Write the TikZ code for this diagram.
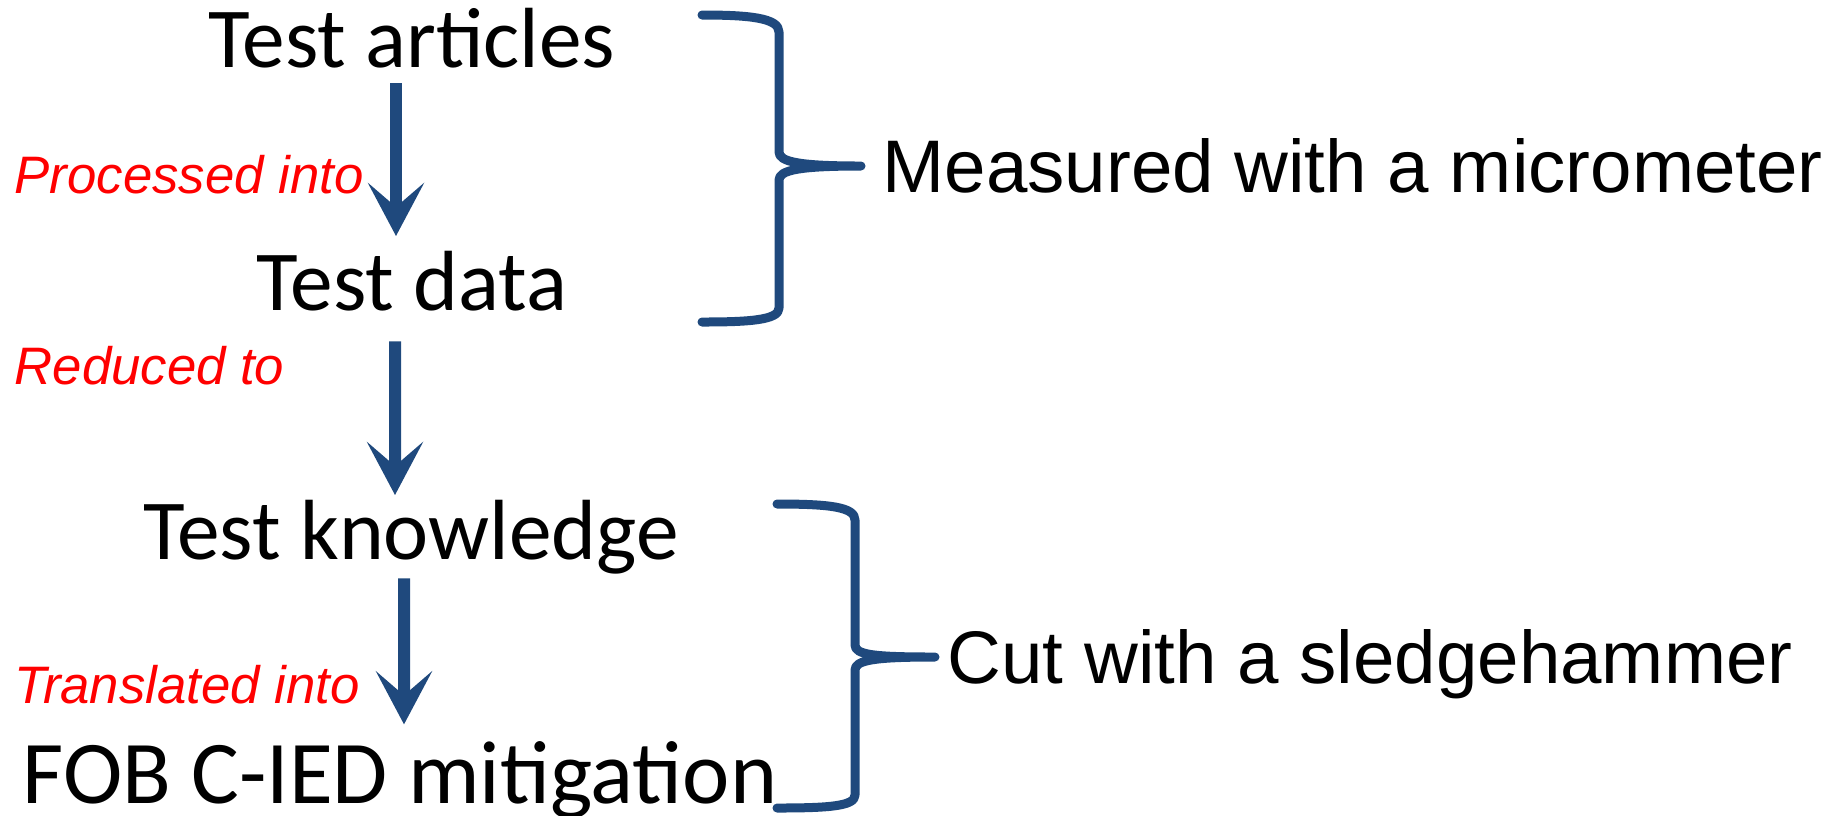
\documentclass[tikz,border=0pt]{standalone}
\usepackage{fontspec}
\setmainfont{Carlito}
\newfontfamily\arialfont{Liberation Sans}
\usepackage{tikz}
\usetikzlibrary{arrows.meta}
\definecolor{navy}{RGB}{31,73,125}

\begin{document}
\begin{tikzpicture}[x=0.1mm,y=-0.1mm,>={Stealth[length=5.3mm,width=5.6mm,inset=2.4mm]},
  stage/.style={font=\fontsize{24.3}{28}\selectfont,inner sep=0pt,anchor=base},
  how/.style={red,font=\arialfont\itshape\fontsize{15}{18}\selectfont,inner sep=0pt,anchor=base west},
  tool/.style={font=\arialfont\fontsize{21.2}{25}\selectfont,inner sep=0pt,anchor=base west},
  flow/.style={->,navy,line width=1.2mm},
  brace/.style={navy,line width=0.9mm,line cap=round,line join=round}]
\useasboundingbox (0,0) rectangle (1837,815);
\node[stage] (articles) at (412,67) {Test articles};
\node[stage] (data) at (412,310) {Test data};
\node[stage] (knowledge) at (411,559) {Test knowledge};
\node[stage,font=\fontsize{25.5}{30}\selectfont] (fob) at (400,803) {FOB C-IED mitigation};
\node[how] (processed) at (14,193) {Processed into};
\node[how] (reduced) at (14,384) {Reduced to};
\node[how] (translated) at (14,703) {Translated into};
\node[tool] (micrometer) at (882,192) {Measured with a micrometer};
\node[tool] (sledge) at (947,683) {Cut with a sledgehammer};
\draw[flow,shorten <=1.5mm,shorten >=1.4mm] ([xshift=-1.6mm]articles.south) -- ([xshift=-1.6mm]data.north);
\draw[flow,shorten <=3mm,shorten >=0.4mm] ([xshift=-1.7mm]data.south) -- ([xshift=-1.6mm]knowledge.north);
\draw[flow,shorten <=0.4mm,shorten >=1.6mm] ([xshift=-0.7mm]knowledge.south) -- ([xshift=0.4mm]fob.north);
\draw[brace] (702,15) .. controls (750,15) and (779,18) .. (779,32) -- (779,152)
  .. controls (779,162) and (800,166) .. (861,166)
  .. controls (800,166) and (779,170) .. (779,180) -- (779,308)
  .. controls (779,320) and (750,322) .. (702,322);
\draw[brace] (777,504) .. controls (830,504) and (855,507) .. (855,520) -- (855,645)
  .. controls (855,655) and (875,657) .. (935,657)
  .. controls (875,657) and (855,660) .. (855,670) -- (855,795)
  .. controls (855,806) and (830,808) .. (777,808);
\end{tikzpicture}
\end{document}
